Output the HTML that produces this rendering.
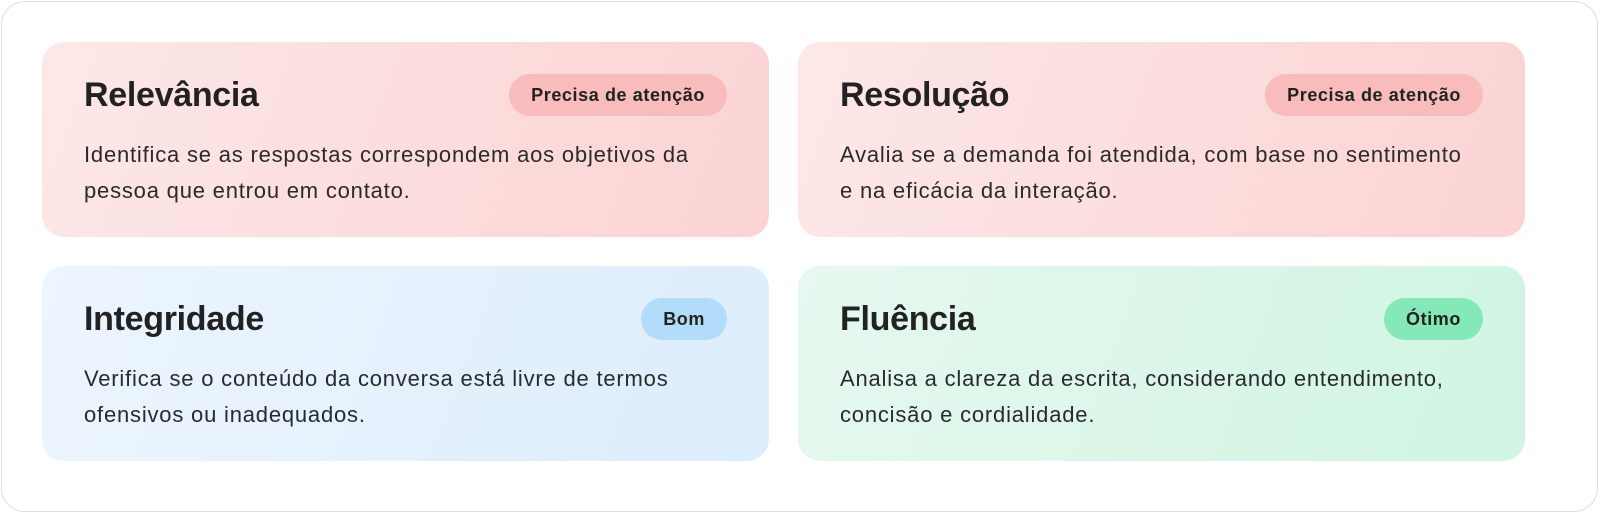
<!DOCTYPE html>
<html><head><meta charset="utf-8"><style>
*{margin:0;padding:0;box-sizing:border-box}
body{width:1600px;height:514px;background:#fff;font-family:"Liberation Sans",sans-serif;overflow:hidden;position:relative}
.frame{position:absolute;left:1px;top:1px;width:1597px;height:511px;border:1.5px solid #dedede;border-radius:24px}
.card{position:absolute;width:727px;height:195px;border-radius:22px}
.t{position:absolute;left:42px;top:32px;line-height:42px;font-size:34px;font-weight:bold;color:#222;letter-spacing:-0.3px}
.b{position:absolute;right:42px;top:32px;height:42px;line-height:42px;padding:0 22px;border-radius:21px;font-size:18px;font-weight:bold;color:#222;letter-spacing:0.6px}
.d{position:absolute;left:42px;top:95px;white-space:nowrap;font-size:22px;letter-spacing:0.8px;line-height:36px;color:#2a2a2a}
.red{background:linear-gradient(110deg,#fde8e8,#fbd3d3)}
.blue{background:linear-gradient(110deg,#edf5fd,#dcedfc)}
.green{background:linear-gradient(110deg,#e6f8ef,#d0f5e2)}
</style></head><body>
<div class="frame"></div>
<div class="card red" style="left:42px;top:42px"><div class="t">Relevância</div><div class="b" style="background:#f8bcbc">Precisa de atenção</div><div class="d">Identifica se as respostas correspondem aos objetivos da<br>pessoa que entrou em contato.</div></div>
<div class="card red" style="left:798px;top:42px"><div class="t">Resolução</div><div class="b" style="background:#f8bcbc">Precisa de atenção</div><div class="d">Avalia se a demanda foi atendida, com base no sentimento<br>e na eficácia da interação.</div></div>
<div class="card blue" style="left:42px;top:266px"><div class="t">Integridade</div><div class="b" style="background:#b3dcfb">Bom</div><div class="d">Verifica se o conteúdo da conversa está livre de termos<br>ofensivos ou inadequados.</div></div>
<div class="card green" style="left:798px;top:266px"><div class="t">Fluência</div><div class="b" style="background:#84e8b8">Ótimo</div><div class="d">Analisa a clareza da escrita, considerando entendimento,<br>concisão e cordialidade.</div></div>
</body></html>
